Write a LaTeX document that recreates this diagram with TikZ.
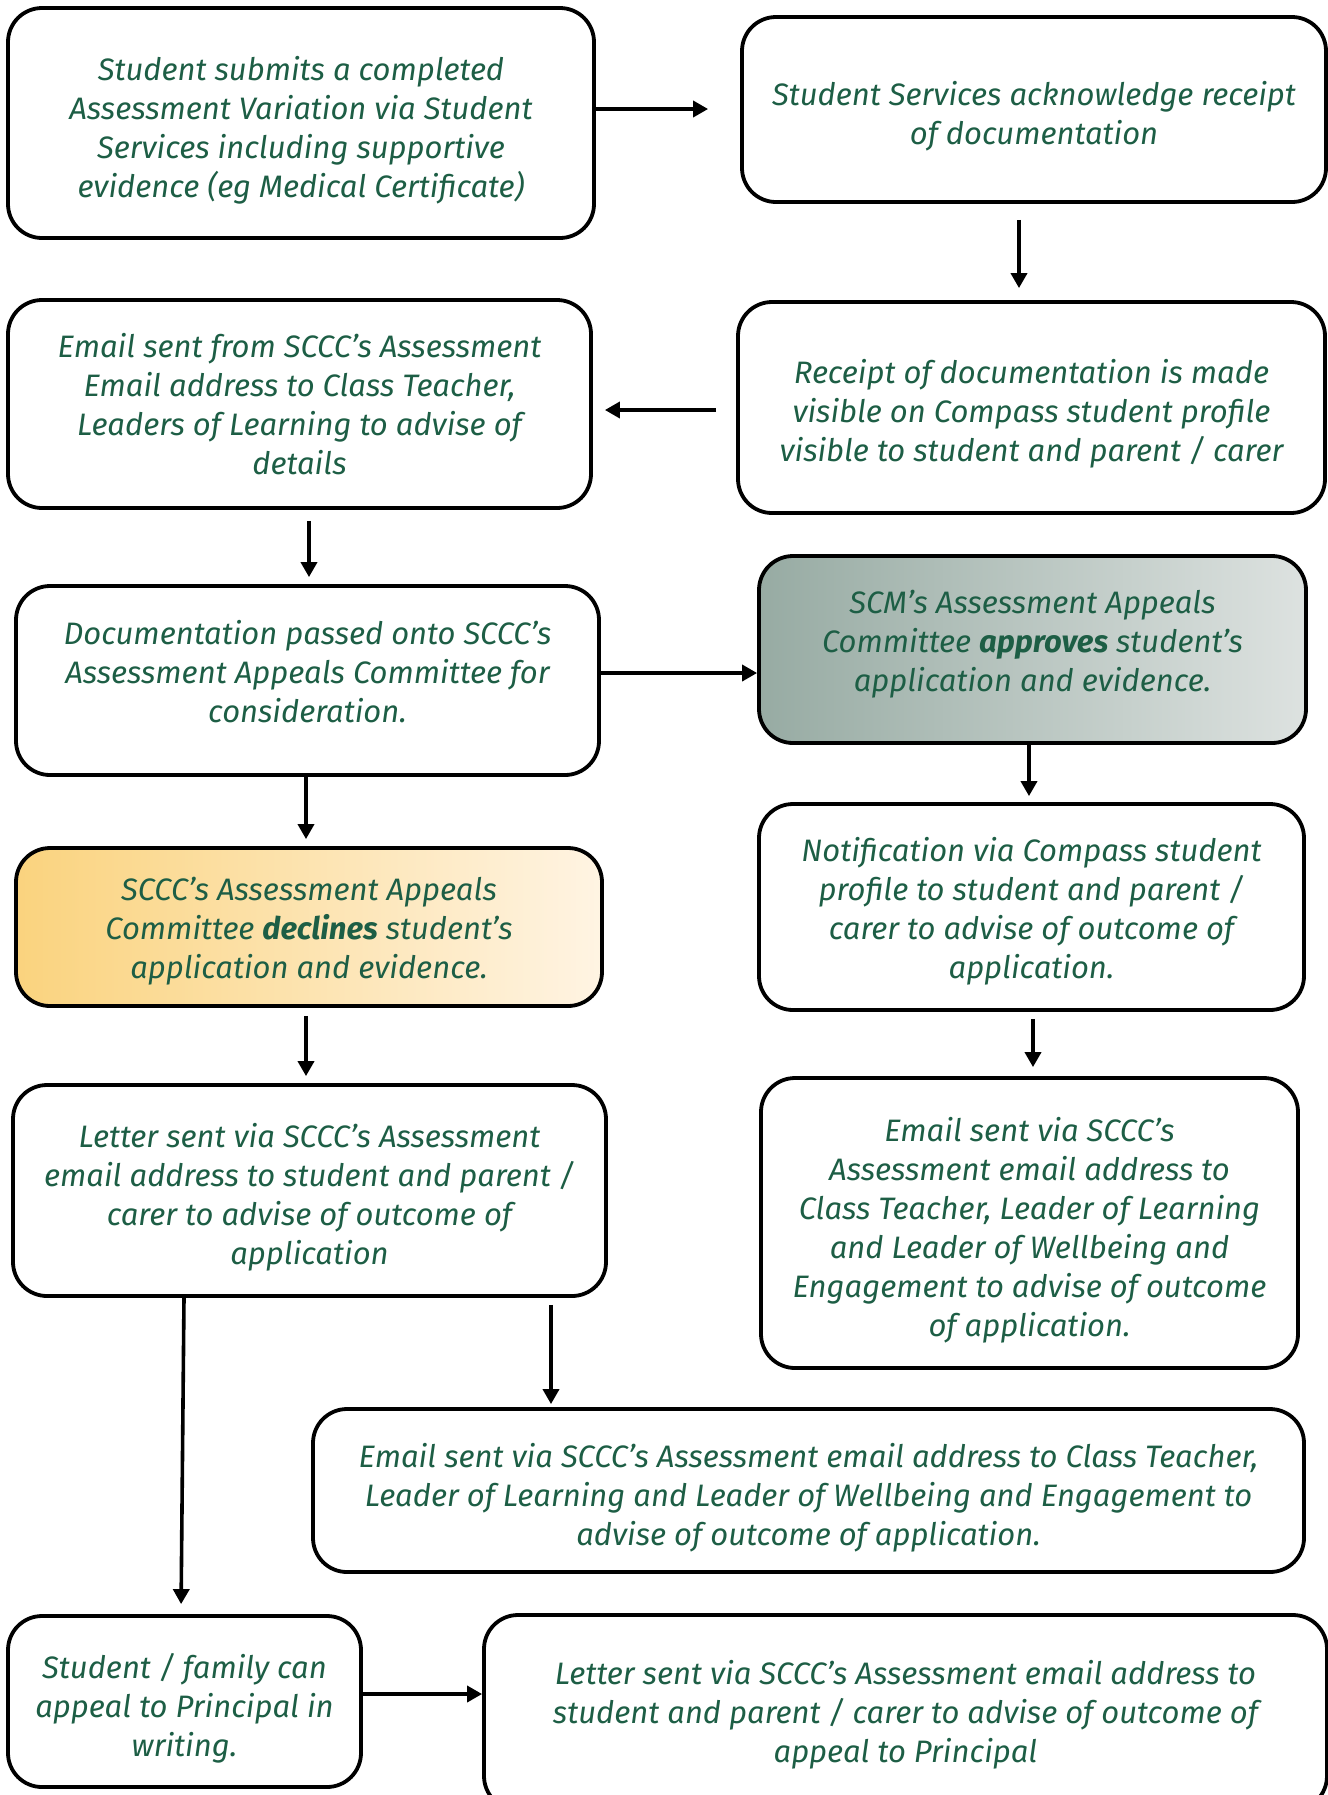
\documentclass[tikz,border=0pt]{standalone}
\usepackage{fontspec}
\setmainfont{Fira Sans}
\usetikzlibrary{arrows.meta}
\definecolor{txtgreen}{HTML}{1D5E45}
\definecolor{apL}{HTML}{97ABA3}
\definecolor{apR}{HTML}{DDE2E0}
\definecolor{deL}{HTML}{FAD37E}
\definecolor{deR}{HTML}{FFF4E3}
\tikzset{
  box/.style={draw=black, line width=1.9pt, rounded corners=17pt, inner sep=0pt, fill=white},
  txt/.style={align=center, text=txtgreen, inner sep=0pt,
    font=\fontsize{15.5pt}{19.5pt}\selectfont\itshape},
  arr/.style={line width=1.8pt, -{Triangle[length=7.5pt,width=8pt]}},
}
\begin{document}
\begin{tikzpicture}[x=0.5pt,y=-0.5pt]
\useasboundingbox (0,0) rectangle (1328,1795);
\node[box, minimum width=293pt, minimum height=115pt] (B1) at (301,123) {};
\node[txt, yshift=-3.4pt] (T1) at (B1) {Student submits a completed\\ Assessment Variation via Student\\ Services including supportive\\ evidence (eg Medical Certificate)};
\node[box, minimum width=292pt, minimum height=92.5pt] (B2) at (1034,109.5) {};
\node[txt, yshift=-3.4pt] (T2) at (B2) {Student Services acknowledge receipt\\ of documentation};
\node[box, minimum width=291.5pt, minimum height=104pt] (B3) at (299.5,404) {};
\node[txt] (T3) at (B3) {Email sent from SCCC’s Assessment\\ Email address to Class Teacher,\\ Leaders of Learning to advise of\\ details};
\node[box, minimum width=293.5pt, minimum height=105.5pt] (B4) at (1031.5,407.5) {};
\node[txt, yshift=-2.9pt] (T4) at (B4) {Receipt of documentation is made\\ visible on Compass student profile\\ visible to student and parent / carer};
\node[box, minimum width=291.5pt, minimum height=94.5pt] (B5) at (307.5,680.5) {};
\node[txt, yshift=4.6pt] (T5) at (B5) {Documentation passed onto SCCC’s\\ Assessment Appeals Committee for\\ consideration.};
\node[box, left color=apL, right color=apR, minimum width=273.5pt, minimum height=93.5pt] (B6) at (1032.5,649.5) {};
\node[txt, yshift=2.9pt] (T6) at (B6) {SCM’s Assessment Appeals\\ Committee \textbf{approves} student’s\\ application and evidence.};
\node[box, left color=deL, right color=deR, minimum width=293pt, minimum height=79pt] (B7) at (309,927) {};
\node[txt, yshift=-2.3pt] (T7) at (B7) {SCCC’s Assessment Appeals\\ Committee \textbf{declines} student’s\\ application and evidence.};
\node[box, minimum width=272.5pt, minimum height=103pt] (B8) at (1031.5,907) {};
\node[txt, yshift=-2.3pt] (T8) at (B8) {Notification via Compass student\\ profile to student and parent /\\ carer to advise of outcome of\\ application.};
\node[box, minimum width=296.5pt, minimum height=105.5pt] (B9) at (309.5,1190.5) {};
\node[txt, yshift=-3.4pt] (T9) at (B9) {Letter sent via SCCC’s Assessment\\ email address to student and parent /\\ carer to advise of outcome of\\ application};
\node[box, minimum width=268.5pt, minimum height=145pt] (B10) at (1029.5,1223) {};
\node[txt, yshift=-3.4pt] (T10) at (B10) {Email sent via SCCC’s\\ Assessment email address to\\ Class Teacher, Leader of Learning\\ and Leader of Wellbeing and\\ Engagement to advise of outcome\\ of application.};
\node[box, minimum width=495.5pt, minimum height=81.5pt] (B11) at (808.5,1490.5) {};
\node[txt, yshift=-3.4pt] (T11) at (B11) {Email sent via SCCC’s Assessment email address to Class Teacher,\\ Leader of Learning and Leader of Wellbeing and Engagement to\\ advise of outcome of application.};
\node[box, minimum width=176.5pt, minimum height=85.5pt] (B12) at (184.5,1701.5) {};
\node[txt, yshift=-3.4pt] (T12) at (B12) {Student / family can\\ appeal to Principal in\\ writing.};
\node[box, minimum width=421.5pt, minimum height=97.5pt] (B13) at (905.5,1712.5) {};
\node[txt, yshift=-1.1pt] (T13) at (B13) {Letter sent via SCCC’s Assessment email address to\\ student and parent / carer to advise of outcome of\\ appeal to Principal};

\draw[arr, shorten >=16pt] ([yshift=7pt]B1.east) -- ([yshift=0.25pt]B2.west);
\draw[arr, shorten <=8pt, shorten >=6pt] ([xshift=-7.5pt]B2.south) -- ([xshift=-6.25pt]B4.north);
\draw[arr, shorten <=10pt, shorten >=6pt] ([yshift=-1.25pt]B4.west) -- ([yshift=-3pt]B3.east);
\draw[arr, shorten <=5.5pt, shorten >=3.5pt] ([xshift=4.75pt]B3.south) -- ([xshift=0.75pt]B5.north);
\draw[arr] ([yshift=3.75pt]B5.east) -- ([yshift=-11.75pt]B6.west);
\draw[arr, shorten >=3.5pt] ([xshift=-0.75pt]B5.south) -- ([xshift=-1.5pt]B7.north);
\draw[arr, shorten >=3pt] ([xshift=-1.75pt]B6.south) -- ([xshift=-1.25pt]B8.north);
\draw[arr, shorten <=3.5pt, shorten >=4.5pt] ([xshift=0.75pt]B8.south) -- ([xshift=1.75pt]B10.north);
\draw[arr, shorten <=4pt, shorten >=3.5pt] ([xshift=-1.5pt]B7.south) -- ([xshift=-1.75pt]B9.north);
\draw[arr, shorten <=3.5pt, shorten >=1.5pt] ([xshift=120.75pt]B9.south) -- ([xshift=-128.75pt]B11.north);
\draw[arr, shorten >=5pt] ([xshift=-62.75pt]B9.south) -- ([xshift=-1.75pt]B12.north);
\draw[arr] ([yshift=3.75pt]B12.east) -- ([yshift=9.25pt]B13.west);
\end{tikzpicture}
\end{document}
